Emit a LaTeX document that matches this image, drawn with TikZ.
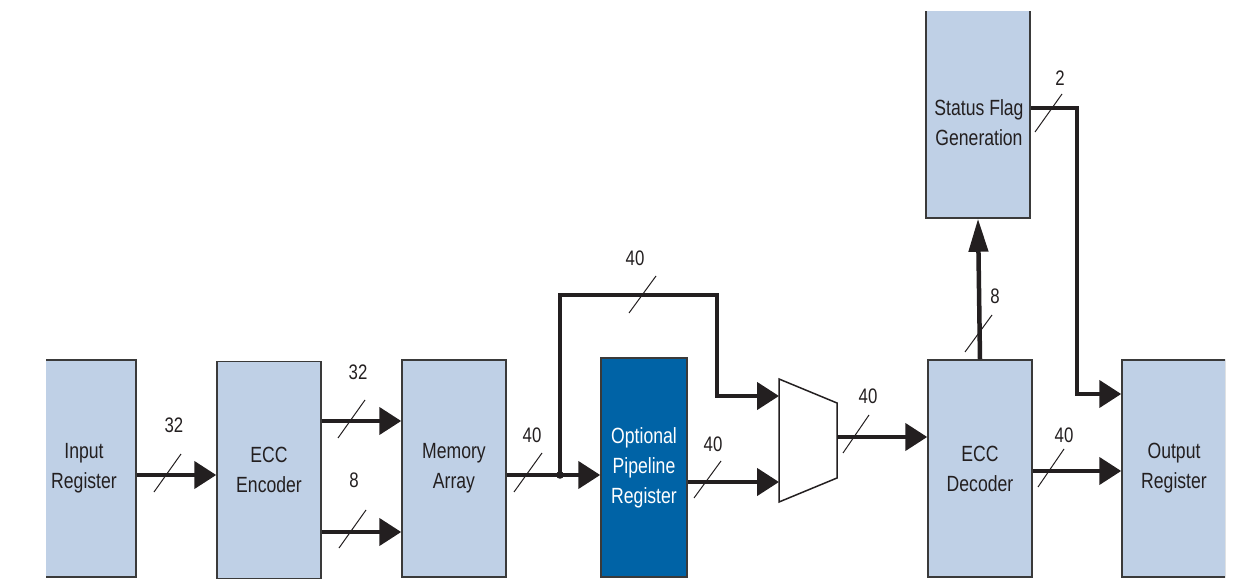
\documentclass[tikz,border=0pt]{standalone}
\usepackage{fontspec}
\setmainfont{Liberation Sans}[FakeStretch=0.8]
\usetikzlibrary{arrows.meta}
\definecolor{boxfill}{HTML}{BFD0E6}
\definecolor{optfill}{HTML}{0063A6}
\definecolor{ink}{HTML}{231F20}
\definecolor{edge}{HTML}{3A3A3A}
\begin{document}
\begin{tikzpicture}[x=1pt,y=-1pt,
  blk/.style={draw=edge, line width=1.5pt, fill=boxfill, minimum width=104pt, minimum height=217pt,
    inner sep=0pt, align=center, font=\fontsize{22}{30}\selectfont, text=ink},
  optblk/.style={blk, fill=optfill, text=white, minimum width=86pt, minimum height=219pt},
  bus/.style={draw=ink, line width=4.5pt, line join=miter},
  harrow/.style={-{Triangle[length=22pt,width=27pt]}},
  varrow/.style={-{Triangle[length=33pt,width=19pt]}},
  tick/.style={draw=ink, line width=1pt},
  num/.style={font=\fontsize{21}{24}\selectfont, text=ink, inner sep=0pt},
  lbl/.style={align=center, font=\fontsize{22}{30}\selectfont, text=ink, inner sep=0pt}
]
\useasboundingbox (0,0) rectangle (1259,588);
\begin{scope}
\clip (46,12) rectangle (1225,579);
% blocks
\node[blk] (inreg) at (84,468.5) {Input\\Register};
\node[blk] (enc) at (269,470) {ECC\\Encoder};
\node[blk] (mem) at (454,468.5) {Memory\\Array};
\node[optblk] (opt) at (644,467.5) {Optional\\Pipeline\\Register};
\node[blk] (dec) at (980,468.5) {ECC\\Decoder};
\node[blk] (outreg) at (1174,468.5) {Output\\Register};
\node[blk] (sfg) at (978,109.5) {};
\node[lbl] (sfgtext) at (979,122.5) {Status Flag\\Generation};
% multiplexer
\draw[draw=ink, line width=1.5pt, fill=white, line join=miter]
  (779,379) -- (837,403) -- (837,478) -- (779,502) -- cycle;
\coordinate (muxa) at (779,396);
\coordinate (muxb) at (779,482);
\coordinate (muxo) at (837,437);
% buses
\draw[bus,harrow] (inreg.east |- 0,475) -- (enc.west |- 0,475);
\draw[bus,harrow] (enc.east |- 0,421) -- (mem.west |- 0,421);
\draw[bus,harrow] (enc.east |- 0,532) -- (mem.west |- 0,532);
\draw[bus,harrow] (mem.east |- 0,475) -- (opt.west |- 0,475);
\coordinate (j) at (560,475);
\coordinate (ja) at (560,295);
\coordinate (jb) at (717,295);
\coordinate (jc) at (717,396);
\draw[bus,harrow] (j) -- (ja) -- (jb) -- (jc) -- (muxa);
\fill[ink] (j) circle (3.8pt);
\draw[bus,harrow] (opt.east |- 0,482) -- (muxb);
\draw[bus,harrow] (muxo) -- (dec.west |- 0,437);
\draw[bus,varrow] (dec.north) -- (sfg.south);
\coordinate (sa) at (1077,108);
\coordinate (sb) at (1077,394);
\draw[bus,harrow] (sfg.east |- 0,108) -- (sa) -- (sb) -- (outreg.west |- 0,394);
\draw[bus,harrow] (dec.east |- 0,471) -- (outreg.west |- 0,471);
% width ticks
\draw[tick] (154,492) -- (181,454);
\draw[tick] (338,438) -- (365,400);
\draw[tick] (339,548) -- (366,510);
\draw[tick] (514,492) -- (542,453);
\draw[tick] (629,313) -- (656,276);
\draw[tick] (694,498) -- (721,461);
\draw[tick] (843,453) -- (869,415);
\draw[tick] (965,352) -- (992,315);
\draw[tick] (1035,132) -- (1062,94);
\draw[tick] (1038,487) -- (1064,449);
% width labels
\node[num] (n1) at (174,425) {32};
\node[num] (n2) at (358,372) {32};
\node[num] (n3) at (354,480) {8};
\node[num] (n4) at (532,435) {40};
\node[num] (n5) at (635,258) {40};
\node[num] (n6) at (713,444) {40};
\node[num] (n7) at (868,396) {40};
\node[num] (n8) at (995,296) {8};
\node[num] (n9) at (1060,78) {2};
\node[num] (n10) at (1064,435) {40};
\end{scope}
\end{tikzpicture}
\end{document}
